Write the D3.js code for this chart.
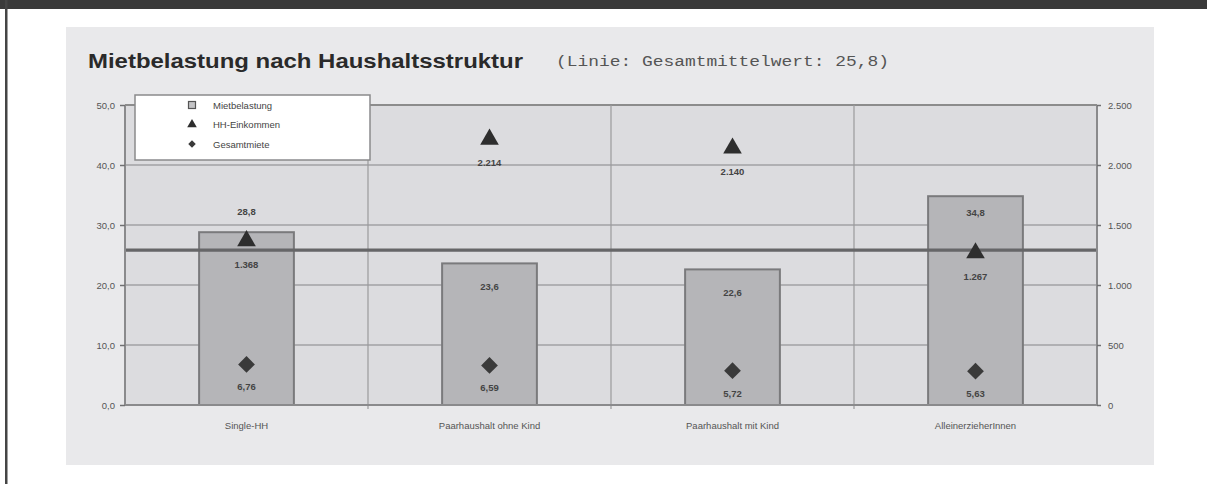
<!DOCTYPE html>
<html><head><meta charset="utf-8">
<script src="https://cdn.jsdelivr.net/npm/d3@7"></script>
<style>
html,body{margin:0;padding:0;background:#fff;}
svg{display:block;font-family:"Liberation Sans",Arial,sans-serif;}
</style></head>
<body>
<script>
// ---- data ----
const categories = ["Single-HH","Paarhaushalt ohne Kind","Paarhaushalt mit Kind","AlleinerzieherInnen"];
const mietbelastung = [28.8, 23.6, 22.6, 34.8];          // bars, left axis (%)
const hhEinkommen = [1368, 2214, 2140, 1267];           // triangles, right axis
const gesamtmiete = [6.76, 6.59, 5.72, 5.63];           // diamonds, left axis
const mietLabels = ["28,8","23,6","22,6","34,8"];
const einkLabels = ["1.368","2.214","2.140","1.267"];
const mieteLabels = ["6,76","6,59","5,72","5,63"];
const mietLabelPos = ["above","inside","inside","inside"];
const mittelwert = 25.8;
const leftTicks = [0,10,20,30,40,50];
const leftTickLabels = ["0,0","10,0","20,0","30,0","40,0","50,0"];
const rightTicks = [0,500,1000,1500,2000,2500];
const rightTickLabels = ["0","500","1.000","1.500","2.000","2.500"];
const legendItems = ["Mietbelastung","HH-Einkommen","Gesamtmiete"];
const titleText = "Mietbelastung nach Haushaltsstruktur";
const subtitleText = "(Linie: Gesamtmittelwert: 25,8)";

// ---- layout ----
const W = 1207, H = 484;
const svg = d3.select("body").append("svg").attr("width", W).attr("height", H);

// frame
svg.append("rect").attr("x",0).attr("y",0).attr("width",W).attr("height",9).attr("fill","#3a3a3a");
svg.append("rect").attr("x",5).attr("y",0).attr("width",2.5).attr("height",H).attr("fill","#454545");

// panel
svg.append("rect").attr("x",66).attr("y",27).attr("width",1088).attr("height",438).attr("fill","#e9e9eb");

const plot = {l:125, r:1097, t:105, b:405};
const x = d3.scaleBand().domain(categories).range([plot.l, plot.r]).paddingInner(0).paddingOuter(0);
const yL = d3.scaleLinear().domain([0,50]).range([plot.b, plot.t]);
const yR = d3.scaleLinear().domain([0,2500]).range([plot.b, plot.t]);

// plot background
svg.append("rect").attr("x",plot.l).attr("y",plot.t).attr("width",plot.r-plot.l).attr("height",plot.b-plot.t).attr("fill","#dcdcdf");

// horizontal gridlines
svg.append("g").selectAll("line").data(leftTicks.filter(d=>d>0)).join("line")
  .attr("x1",plot.l).attr("x2",plot.r).attr("y1",d=>yL(d)).attr("y2",d=>yL(d))
  .attr("stroke",d=>d===50?"#8c8c8c":"#a2a2a4").attr("stroke-width",d=>d===50?2:1.6);

// vertical separators
svg.append("g").selectAll("line").data(categories.slice(1)).join("line")
  .attr("x1",d=>x(d)).attr("x2",d=>x(d)).attr("y1",plot.t).attr("y2",plot.b+4)
  .attr("stroke","#9a9a9c").attr("stroke-width",1.2);

// bars
const bw = x.bandwidth()*0.39;
svg.append("g").selectAll("rect").data(categories).join("rect")
  .attr("x",d=>x(d)+x.bandwidth()/2-bw/2).attr("width",bw)
  .attr("y",(d,i)=>yL(mietbelastung[i])).attr("height",(d,i)=>yL(0)-yL(mietbelastung[i]))
  .attr("fill","#b5b5b8").attr("stroke","#7a7a7c").attr("stroke-width",2);

// mean line
svg.append("line").attr("x1",plot.l).attr("x2",plot.r).attr("y1",yL(mittelwert)).attr("y2",yL(mittelwert))
  .attr("stroke","#666668").attr("stroke-width",3.2);

// axes lines
const axG = svg.append("g");
axG.append("line").attr("x1",plot.l).attr("x2",plot.l).attr("y1",plot.t).attr("y2",plot.b).attr("stroke","#8a8a8c").attr("stroke-width",2);
axG.append("line").attr("x1",plot.r).attr("x2",plot.r).attr("y1",plot.t).attr("y2",plot.b+1).attr("stroke","#8a8a8c").attr("stroke-width",2);
axG.append("line").attr("x1",plot.l).attr("x2",plot.r).attr("y1",plot.b).attr("y2",plot.b).attr("stroke","#8a8a8c").attr("stroke-width",2.2);

const sans = "Liberation Sans, Arial, sans-serif";

// left axis
const leftAxis = d3.axisLeft(yL).tickValues(leftTicks).tickSize(5).tickPadding(5)
  .tickFormat((d,i)=>leftTickLabels[i]);
const gl = svg.append("g").attr("transform",`translate(${plot.l},0)`).call(leftAxis);
gl.select(".domain").remove();
gl.selectAll(".tick line").attr("stroke","#707072").attr("stroke-width",1.5);
gl.selectAll(".tick text").style("font-size","9.5px").style("font-family",sans).attr("fill","#555");

// right axis
const rightAxis = d3.axisRight(yR).tickValues(rightTicks).tickSize(4).tickPadding(7)
  .tickFormat((d,i)=>rightTickLabels[i]);
const gr = svg.append("g").attr("transform",`translate(${plot.r},0)`).call(rightAxis);
gr.select(".domain").remove();
gr.selectAll(".tick line").attr("stroke","#707072").attr("stroke-width",1.5);
gr.selectAll(".tick text").style("font-size","9.5px").style("font-family",sans).attr("fill","#555");

// bottom axis
const bottomAxis = d3.axisBottom(x).tickSize(0).tickPadding(17);
const gb = svg.append("g").attr("transform",`translate(0,${plot.b})`).call(bottomAxis);
gb.select(".domain").remove();
gb.selectAll(".tick text").style("font-size","9.5px").style("font-family",sans).attr("fill","#555");

// triangles (HH-Einkommen)
const tri = d3.symbol().type(d3.symbolTriangle).size(150);
svg.append("g").selectAll("path").data(categories).join("path")
  .attr("d",tri)
  .attr("transform",(d,i)=>`translate(${x(d)+x.bandwidth()/2},${yR(hhEinkommen[i])})`)
  .attr("fill","#2e2e2e");

// diamonds (Gesamtmiete)
const dia = d3.symbol().type(d3.symbolSquare).size(140);
svg.append("g").selectAll("path").data(categories).join("path")
  .attr("d",dia)
  .attr("transform",(d,i)=>`translate(${x(d)+x.bandwidth()/2},${yL(gesamtmiete[i])}) rotate(45)`)
  .attr("fill","#3a3a3a");

// labels
const lblStyle = s => s.style("font-size","9.5px").style("font-family",sans).attr("font-weight","bold").attr("fill","#444").attr("text-anchor","middle");
svg.append("g").selectAll("text").data(categories).join("text")
  .attr("x",d=>x(d)+x.bandwidth()/2)
  .attr("y",(d,i)=>mietLabelPos[i]==="above"? yL(mietbelastung[i])-17 : yL(mietbelastung[i])+ (i===3?20:27))
  .text((d,i)=>mietLabels[i]).call(lblStyle);
svg.append("g").selectAll("text").data(categories).join("text")
  .attr("x",d=>x(d)+x.bandwidth()/2)
  .attr("y",(d,i)=>yR(hhEinkommen[i])+27)
  .text((d,i)=>einkLabels[i]).call(lblStyle);
svg.append("g").selectAll("text").data(categories).join("text")
  .attr("x",d=>x(d)+x.bandwidth()/2)
  .attr("y",(d,i)=>yL(gesamtmiete[i])+26)
  .text((d,i)=>mieteLabels[i]).call(lblStyle);

// legend
const lg = svg.append("g").attr("transform","translate(135,95)");
lg.append("rect").attr("width",235).attr("height",65).attr("fill","#fff").attr("stroke","#8a8a8c").attr("stroke-width",1.5);
const legSyms = [
  g=>g.append("rect").attr("x",-3.5).attr("y",-3.5).attr("width",7).attr("height",7).attr("fill","#c4c4c6").attr("stroke","#555").attr("stroke-width",1.2),
  g=>g.append("path").attr("d",d3.symbol().type(d3.symbolTriangle).size(40)).attr("fill","#2e2e2e"),
  g=>g.append("path").attr("d",d3.symbol().type(d3.symbolSquare).size(28)).attr("transform","rotate(45)").attr("fill","#3a3a3a")
];
legendItems.forEach((t,i)=>{
  const g = lg.append("g").attr("transform",`translate(57,${10+i*19.5})`);
  legSyms[i](g);
  g.append("text").attr("x",21).attr("y",3.5).style("font-size","9.5px").style("font-family",sans).attr("fill","#444").text(t);
});

// title
svg.append("text").attr("x",88).attr("y",68).style("font-size","20px").style("font-family",sans).attr("font-weight","bold").attr("fill","#2a2a2a")
  .attr("textLength",435).attr("lengthAdjust","spacingAndGlyphs").text(titleText);
svg.append("text").attr("x",556).attr("y",66).style("font-size","14px").attr("fill","#555")
  .style("font-family","'Liberation Mono','Courier New',monospace")
  .attr("textLength",333).attr("lengthAdjust","spacingAndGlyphs").text(subtitleText);
</script>
</body></html>
